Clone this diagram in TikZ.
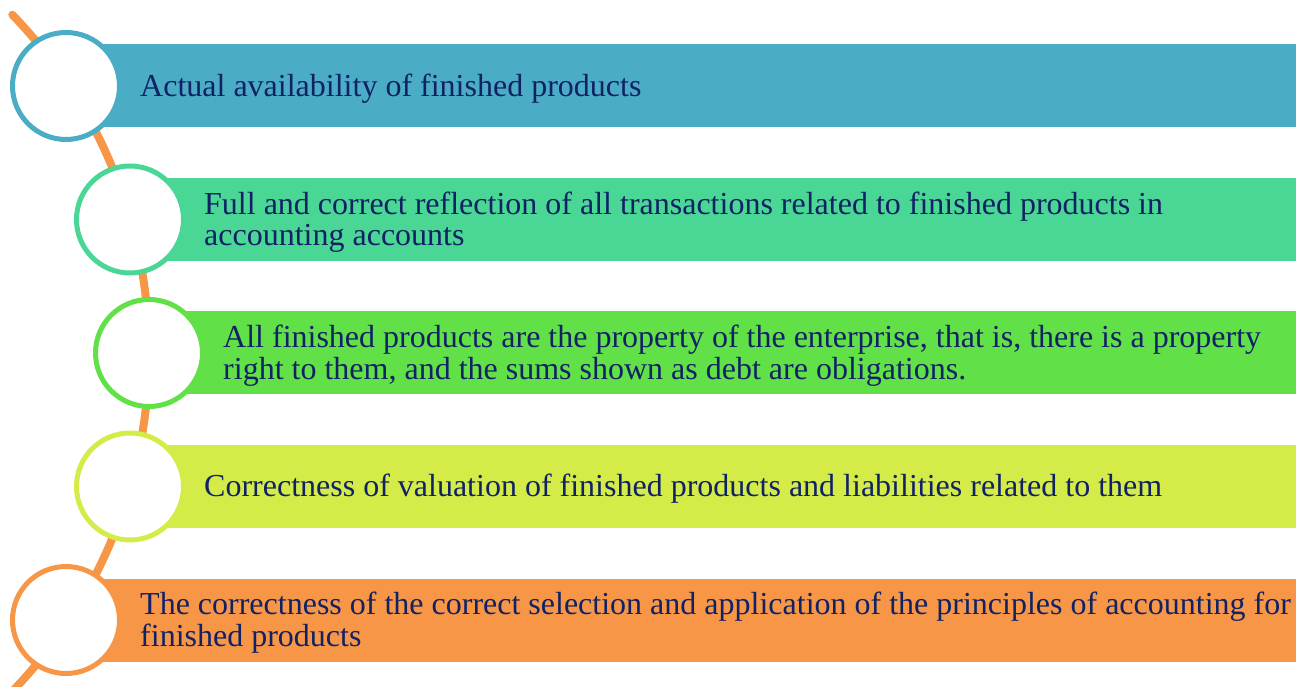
\documentclass[tikz,border=0pt]{standalone}
\usepackage{fontspec}
\setmainfont{Liberation Serif}
\usetikzlibrary{positioning}

\definecolor{aqua}{RGB}{75,172,198}
\definecolor{mint}{RGB}{74,214,148}
\definecolor{leaf}{RGB}{98,224,72}
\definecolor{lime}{RGB}{212,235,72}
\definecolor{tangerine}{RGB}{247,150,70}
\definecolor{ink}{RGB}{16,34,100}

\begin{document}
\begin{tikzpicture}[x=1pt, y=1pt,
    bubble/.style = {circle, draw, line width=5pt, fill=white, minimum size=107pt, inner sep=0pt},
    bar/.style = {rectangle, anchor=west, minimum height=83pt, inner sep=0pt},
    caption/.style = {inner sep=0pt, align=left, text=ink, yshift=-2.5pt, font=\fontsize{32}{31.5}\selectfont},
    spine/.style = {draw=tangerine, line width=8pt, line cap=round}
    ]
    \useasboundingbox (0,0) rectangle (1301,686);

    % orange arc behind the bubbles
    \coordinate (hub) at (-338,333);
    \draw[spine] ([shift={(44:487)}]hub) arc[start angle=44, end angle=-47, radius=487];

    \node[bar, fill=aqua, minimum width=1230pt] (bar1) at (66,600) {};
    \node[bar, fill=mint, minimum width=1166pt] (bar2) at (130,466.5) {};
    \node[bar, fill=leaf, minimum width=1147pt] (bar3) at (149,333) {};
    \node[bar, fill=lime, minimum width=1166pt] (bar4) at (130,199.5) {};
    \node[bar, fill=tangerine, minimum width=1230pt] (bar5) at (66,66) {};

    \node[bubble, draw=aqua] (b1) at (bar1.west) {};
    \node[bubble, draw=mint] (b2) at (bar2.west) {};
    \node[bubble, draw=leaf] (b3) at (bar3.west) {};
    \node[bubble, draw=lime] (b4) at (bar4.west) {};
    \node[bubble, draw=tangerine] (b5) at (bar5.west) {};

    \node[caption, right=74pt of b1.center] (t1) {Actual availability of finished products};
    \node[caption, right=74pt of b2.center] (t2) {Full and correct reflection of all transactions related to finished products in\\accounting accounts};
    \node[caption, right=74pt of b3.center] (t3) {All finished products are the property of the enterprise, that is, there is a property\\right to them, and the sums shown as debt are obligations.};
    \node[caption, right=74pt of b4.center] (t4) {Correctness of valuation of finished products and liabilities related to them};
    \node[caption, right=74pt of b5.center] (t5) {The correctness of the correct selection and application of the principles of accounting for\\finished products};
\end{tikzpicture}
\end{document}
